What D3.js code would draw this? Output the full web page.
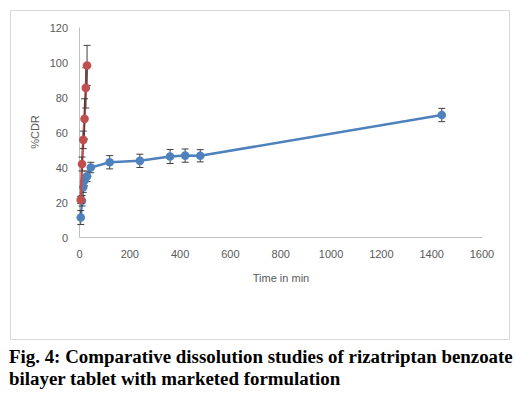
<!DOCTYPE html>
<html>
<head>
<meta charset="utf-8">
<script src="https://cdn.jsdelivr.net/npm/d3@7"></script>
<style>
body { margin: 0; background: #fff; }
</style>
</head>
<body>
<script>
// test formulation (blue) and marketed (red)
const testTime = [5, 10, 15, 20, 30, 45, 120, 240, 360, 420, 480, 1440]
const testCdr = [11.4, 21, 28.8, 32.6, 35, 40, 43, 43.8, 46.3, 46.8, 46.7, 70]
const testErr = [4, 3, 3, 3, 3, 3, 3.8, 3.8, 4, 3.8, 3.5, 3.8]
const mktTime = [5, 10, 15, 20, 25, 30]
const mktCdr = [21.5, 42, 55.8, 67.8, 85.5, 98.3]
const mktErr = [2, 4, 5, 11.5, 11.5, 11.5]
const xTicks = [0, 200, 400, 600, 800, 1000, 1200, 1400, 1600]
const yTicks = [0, 20, 40, 60, 80, 100, 120]

const W = 517, H = 395
const svg = d3.select('body').append('svg')
    .attr('width', W)
    .attr('height', H)

svg.append('rect')
    .attr('x', 10.5).attr('y', 10.5)
    .attr('width', 499).attr('height', 329)
    .attr('fill', '#fff')
    .attr('stroke', '#d9d9d9')

const x = d3.scaleLinear().domain([0, 1600]).range([79.5, 482])
const y = d3.scaleLinear().domain([0, 120]).range([237.5, 27.5])

const font = "'Liberation Sans', Arial, sans-serif"
const grey = '#595959'

// axes
svg.append('line')
    .attr('x1', x(0)).attr('x2', x(0))
    .attr('y1', y(120)).attr('y2', y(0))
    .attr('stroke', '#bfbfbf')
svg.append('line')
    .attr('x1', x(0)).attr('x2', x(1600))
    .attr('y1', y(0)).attr('y2', y(0))
    .attr('stroke', '#bfbfbf')

svg.selectAll('.ylab')
    .data(yTicks).enter()
    .append('text')
    .attr('class', 'ylab')
    .attr('x', 68)
    .attr('y', d => y(d) + 4)
    .attr('text-anchor', 'end')
    .attr('font-family', font)
    .attr('font-size', 11)
    .attr('fill', grey)
    .text(d => d)

svg.selectAll('.xlab')
    .data(xTicks).enter()
    .append('text')
    .attr('class', 'xlab')
    .attr('x', d => x(d))
    .attr('y', 258)
    .attr('text-anchor', 'middle')
    .attr('font-family', font)
    .attr('font-size', 11)
    .attr('fill', grey)
    .text(d => d)

svg.append('text')
    .attr('x', 281).attr('y', 282)
    .attr('text-anchor', 'middle')
    .attr('font-family', font)
    .attr('font-size', 11)
    .attr('fill', grey)
    .text('Time in min')

svg.append('text')
    .attr('transform', 'translate(39,132) rotate(-90)')
    .attr('text-anchor', 'middle')
    .attr('font-family', font)
    .attr('font-size', 11)
    .attr('fill', grey)
    .text('%CDR')

const drawSeries = (times, vals, errs, color) => {
    const pts = times.map((t, i) => ({t: t, v: vals[i], e: errs[i]}))
    const line = d3.line().x(d => x(d.t)).y(d => y(d.v))
    svg.append('path')
        .datum(pts)
        .attr('d', line)
        .attr('fill', 'none')
        .attr('stroke', color)
        .attr('stroke-width', 2.5)
    let eb = svg.append('g').selectAll('g')
        .data(pts).enter()
        .append('g')
        .attr('stroke', '#404040')
        .attr('stroke-width', 1)
    eb.append('line')
        .attr('x1', d => x(d.t)).attr('x2', d => x(d.t))
        .attr('y1', d => y(d.v - d.e)).attr('y2', d => y(d.v + d.e))
    eb.append('line')
        .attr('x1', d => x(d.t) - 3.5).attr('x2', d => x(d.t) + 3.5)
        .attr('y1', d => y(d.v - d.e)).attr('y2', d => y(d.v - d.e))
    eb.append('line')
        .attr('x1', d => x(d.t) - 3.5).attr('x2', d => x(d.t) + 3.5)
        .attr('y1', d => y(d.v + d.e)).attr('y2', d => y(d.v + d.e))
    svg.append('g').selectAll('circle')
        .data(pts).enter()
        .append('circle')
        .attr('cx', d => x(d.t))
        .attr('cy', d => y(d.v))
        .attr('r', 4.3)
        .attr('fill', color)
}

drawSeries(testTime, testCdr, testErr, '#4f81bd')
drawSeries(mktTime, mktCdr, mktErr, '#c0504d')

// caption
const cap = svg.append('g')
    .attr('font-family', "'Liberation Serif', 'Times New Roman', serif")
    .attr('font-weight', 'bold')
    .attr('font-size', 18.9)
    .attr('fill', '#000')
cap.append('text').attr('x', 9).attr('y', 363)
    .text('Fig. 4: Comparative dissolution studies of rizatriptan benzoate')
cap.append('text').attr('x', 9).attr('y', 385)
    .text('bilayer tablet with marketed formulation')
</script>
</body>
</html>
